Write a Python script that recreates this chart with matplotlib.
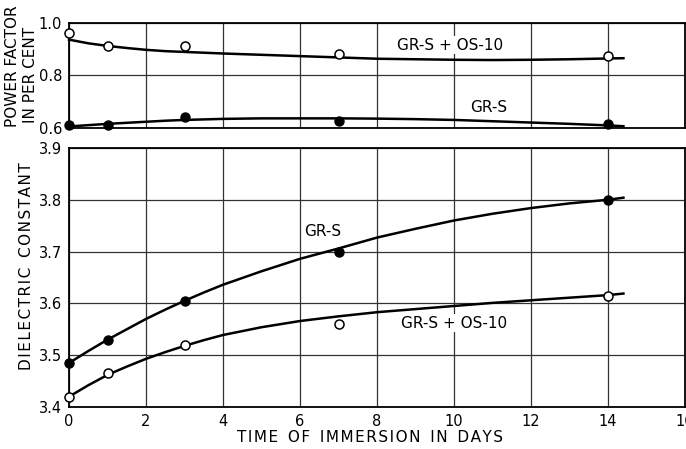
import matplotlib.pyplot as plt

# measured points
days = [0, 1, 3, 7, 14]
pf_grs = [0.61, 0.61, 0.64, 0.625, 0.615]
pf_grs_os = [0.96, 0.91, 0.91, 0.88, 0.875]
dc_grs = [3.485, 3.53, 3.605, 3.70, 3.80]
dc_grs_os = [3.42, 3.465, 3.52, 3.56, 3.615]

# drawn smooth curves
curve_days = [0, 0.5, 1, 1.5, 2, 2.5, 3, 3.5, 4, 5, 6, 7, 8, 9, 10, 11, 12, 13, 14, 14.4]
pf_grs_curve = [0.604, 0.609, 0.614, 0.618, 0.622, 0.626, 0.629, 0.631, 0.633, 0.635, 0.635, 0.635,
                0.634, 0.632, 0.629, 0.624, 0.619, 0.614, 0.608, 0.605]
pf_grs_os_curve = [0.936, 0.922, 0.912, 0.904, 0.897, 0.892, 0.889, 0.886, 0.883, 0.878, 0.873, 0.868,
                   0.863, 0.861, 0.859, 0.858, 0.859, 0.861, 0.864, 0.865]
dc_grs_curve = [3.485, 3.508, 3.530, 3.550, 3.570, 3.588, 3.605, 3.621, 3.636, 3.662, 3.686, 3.706,
                3.727, 3.744, 3.760, 3.773, 3.784, 3.793, 3.800, 3.804]
dc_grs_os_curve = [3.420, 3.442, 3.462, 3.478, 3.493, 3.506, 3.518, 3.529, 3.539, 3.554, 3.566, 3.575,
                   3.583, 3.589, 3.595, 3.601, 3.606, 3.611, 3.616, 3.619]

plt.rcParams['font.family'] = 'DejaVu Sans'
fig = plt.figure(figsize=(6.86, 4.49), dpi=100)
ax1 = fig.add_axes([0.1006, 0.716, 0.898, 0.233])
ax2 = fig.add_axes([0.1006, 0.0935, 0.898, 0.577])

def spaced(s):
    return '\u200a'.join(s)

def style(ax):
    ax.set_xlim(0, 16)
    ax.set_xticks(range(0, 17, 2))
    ax.grid(True, color='#333333', linewidth=0.9)
    ax.set_axisbelow(True)
    for s in ax.spines.values():
        s.set_linewidth(1.3)
    ax.tick_params(length=0, labelsize=10.5, pad=5)

# power factor
style(ax1)
ax1.set_ylim(0.6, 1.0)
ax1.set_yticks([0.6, 0.8, 1.0])
ax1.set_yticklabels(['0.6', '0.8', '1.0'])
ax1.set_xticklabels([])
ax1.plot(curve_days, pf_grs_os_curve, color='black', lw=1.8, clip_on=False)
ax1.plot(curve_days, pf_grs_curve, color='black', lw=1.8, clip_on=False)
ax1.plot(days, pf_grs_os, 'o', ms=6.5, mfc='white', mec='black', mew=1.1, clip_on=False, zorder=5)
ax1.plot(days, pf_grs, 'o', ms=6.5, mfc='black', mec='black', clip_on=False, zorder=5)
ax1.text(9.9, 0.915, 'GR-S + OS-10', ha='center', va='center', fontsize=11,
         bbox=dict(fc='white', ec='none', pad=1))
ax1.text(10.9, 0.676, 'GR-S', ha='center', va='center', fontsize=11,
         bbox=dict(fc='white', ec='none', pad=1))
fig.text(0.018, 0.853, 'POWER FACTOR', rotation=90, ha='center', va='center', fontsize=11)
fig.text(0.045, 0.833, 'IN PER CENT', rotation=90, ha='center', va='center', fontsize=11)

# dielectric constant
style(ax2)
ax2.set_ylim(3.4, 3.9)
ax2.set_yticks([3.4, 3.5, 3.6, 3.7, 3.8, 3.9])
ax2.plot(curve_days, dc_grs_curve, color='black', lw=1.8)
ax2.plot(curve_days, dc_grs_os_curve, color='black', lw=1.8)
ax2.plot(days, dc_grs, 'o', ms=6.5, mfc='black', mec='black', clip_on=False, zorder=5)
ax2.plot(days, dc_grs_os, 'o', ms=6.5, mfc='white', mec='black', mew=1.1, clip_on=False, zorder=5)
ax2.text(6.6, 3.738, 'GR-S', ha='center', va='center', fontsize=11,
         bbox=dict(fc='white', ec='none', pad=1))
ax2.text(10.0, 3.562, 'GR-S + OS-10', ha='center', va='center', fontsize=11,
         bbox=dict(fc='white', ec='none', pad=1))
fig.text(0.038, 0.408, spaced('DIELECTRIC') + '  ' + spaced('CONSTANT'), rotation=90,
         ha='center', va='center', fontsize=11)
fig.text(0.539, 0.0245, '  '.join(spaced(w) for w in 'TIME OF IMMERSION IN DAYS'.split()),
         ha='center', va='center', fontsize=11)

fig.savefig('out.png', dpi=100)
